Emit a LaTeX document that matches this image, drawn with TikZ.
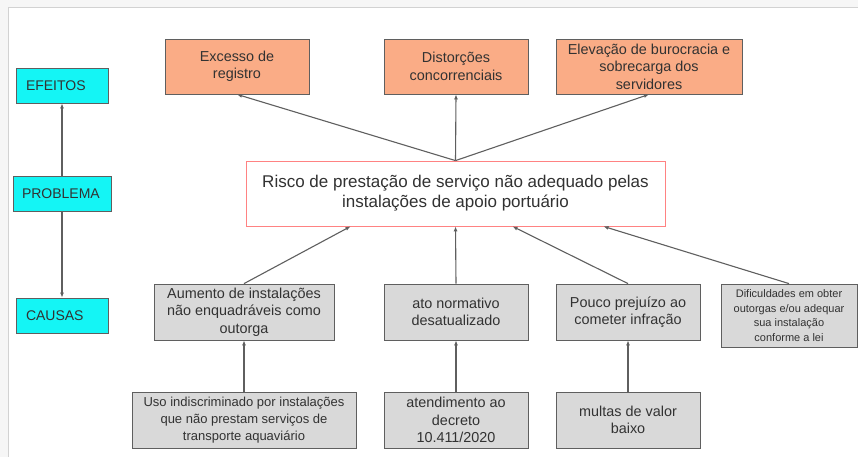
\documentclass[tikz,border=0pt]{standalone}
\usepackage{fontspec}
\setmainfont{Liberation Sans}
\usepackage{xcolor}
\usepackage{tikz}
\usetikzlibrary{positioning,arrows.meta,calc}
\definecolor{aqua}{RGB}{20,245,245}
\definecolor{salmon}{RGB}{250,172,134}
\definecolor{boxgray}{RGB}{217,217,217}
\definecolor{edgegray}{RGB}{95,95,95}
\definecolor{riskred}{RGB}{255,130,130}
\definecolor{inkgray}{RGB}{50,50,50}
\tikzset{
    tag/.style={rectangle,draw=edgegray,thick,fill=aqua,minimum height=35pt,inner xsep=10pt,inner ysep=0pt,align=left,text=inkgray,font=\fontsize{14}{17}\selectfont},
    effect/.style={rectangle,draw=edgegray,thick,fill=salmon,minimum height=55pt,inner sep=2pt,align=center,text=inkgray,font=\fontsize{14.4}{17.5}\selectfont},
    cause/.style={rectangle,draw=edgegray,thick,fill=boxgray,minimum height=56pt,inner sep=2pt,align=center,text=inkgray,font=\fontsize{14.4}{17.5}\selectfont},
    risk/.style={rectangle,draw=riskred,thick,fill=white,minimum width=419pt,minimum height=65pt,inner sep=2pt,align=center,text=inkgray,font=\fontsize{17}{20}\selectfont},
    arr/.style={-{Latex[length=5pt,width=4pt]},line width=1.1pt,draw=edgegray},
}

\begin{document}
\begin{tikzpicture}[x=1pt,y=-1pt]
\useasboundingbox (0,0) rectangle (858,457);
\fill[gray!7] (0,0) rectangle (858,457);
\draw[gray!35,fill=white] (8,7) rectangle (870,470);
% left column
\node[tag,text width=72pt]  (efe)  at (62,85.5)  {EFEITOS};
\node[tag,text width=80pt,inner xsep=9pt] (prob) at (62,193.5) {PROBLEMA};
\node[tag,text width=72pt]  (cau)  at (62,315.5) {CAUSAS};
\draw[arr] (prob) -- (efe);
\draw[arr] (prob) -- (cau);
% effects
\node[effect,minimum width=144pt] (exc)  at (237,66.5) {Excesso de\\registro};
\node[effect,minimum width=144pt] (dist) at (456,66.5) {Distorções\\concorrenciais};
\node[effect,minimum width=186pt] (elev) at (649,66.5) {Elevação de burocracia e\\sobrecarga dos\\servidores};
% problem
\node[risk] (risco) at (455.5,193.5) {Risco de prestação de serviço não adequado pelas\\instalações de apoio portuário};
\draw[arr] (risco.north) -- (exc.south);
\draw[arr] (risco.north) -- (dist.south);
\draw[arr] (risco.north) -- (elev.south);
% causes
\node[cause,minimum width=180pt] (aum)  at (244,312) {Aumento de instalações\\não enquadráveis como\\outorga};
\node[cause,minimum width=144pt] (ato)  at (456,312) {ato normativo\\desatualizado};
\node[cause,minimum width=144pt] (pou)  at (628,312) {Pouco prejuízo ao\\cometer infração};
\node[cause,minimum width=136pt,minimum height=63pt,font=\fontsize{11}{14.5}\selectfont] (dif) at (789,315.5) {Dificuldades em obter\\outorgas e/ou adequar\\sua instalação\\conforme a lei};
\draw[arr] (aum.north) -- ($(risco.south)!0.5!(risco.south west)$);
\draw[arr] (ato.north) -- (risco.south);
\draw[arr] (pou.north) -- ($(risco.south)+(57,0)$);
\draw[arr] (dif.north) -- ($(risco.south)+(148,0)$);
% root causes
\node[cause,minimum width=224pt,font=\fontsize{13}{17}\selectfont] (uso) at (244,420) {Uso indiscriminado por instalações\\que não prestam serviços de\\transporte aquaviário};
\node[cause,minimum width=144pt] (atd) at (456,420) {atendimento ao\\decreto\\10.411/2020};
\node[cause,minimum width=144pt] (mul) at (628,420) {multas de valor\\baixo};
\draw[arr] (uso) -- (aum);
\draw[arr] (atd) -- (ato);
\draw[arr] (mul) -- (pou);
\end{tikzpicture}
\end{document}
